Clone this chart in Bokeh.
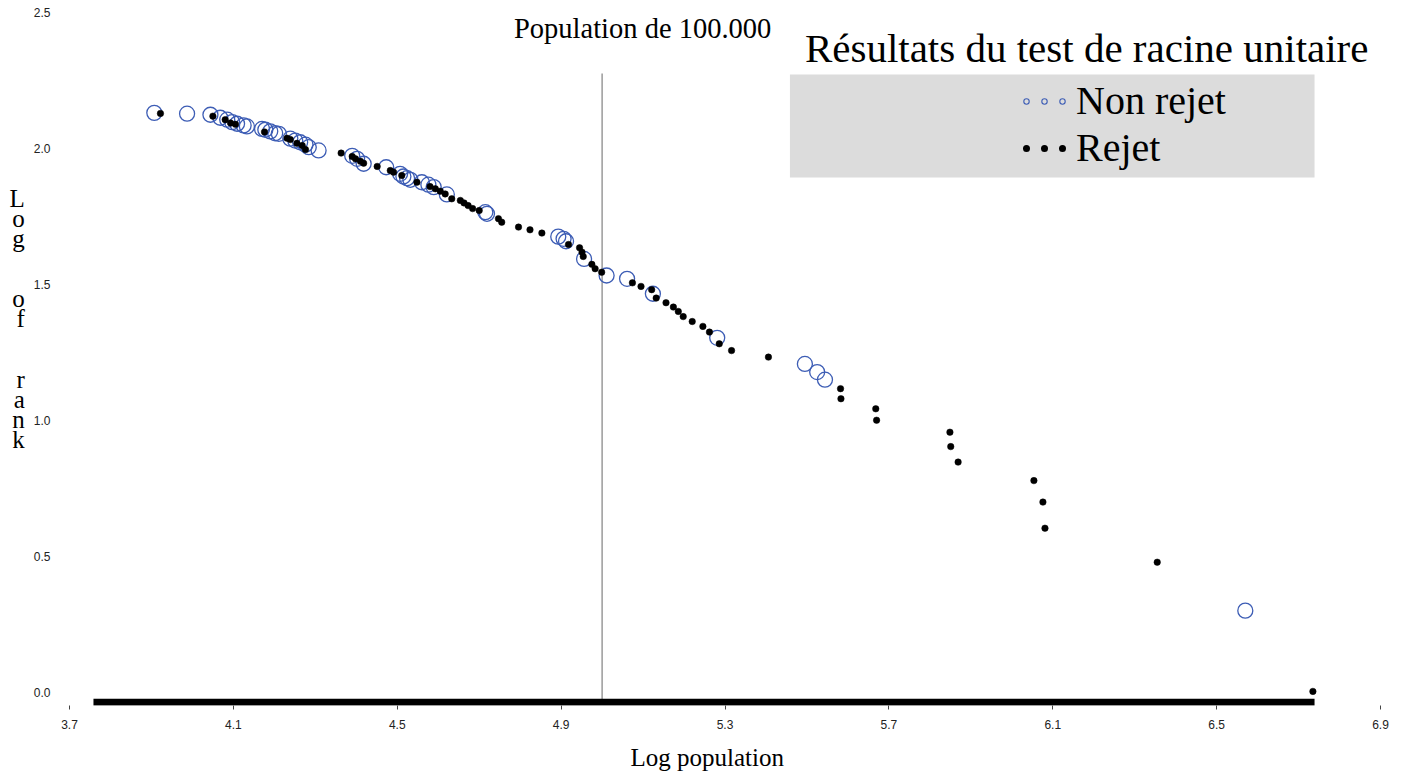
import numpy as np
from bokeh.plotting import figure
from bokeh.models import (FixedTicker, Label, BoxAnnotation, Legend, LegendItem,
                          ColumnDataSource, NumeralTickFormatter, Title)
from bokeh.embed import file_html
from bokeh.resources import INLINE

# ---- data (log population, log rank) ----
non_rejet_x = [3.907, 3.987, 4.044, 4.068, 4.085, 4.097, 4.109, 4.125, 4.133, 4.170,
               4.178, 4.190, 4.202, 4.211, 4.239, 4.251, 4.263, 4.276, 4.284, 4.308,
               4.390, 4.402, 4.418, 4.473, 4.507, 4.515, 4.524, 4.532, 4.560, 4.576,
               4.589, 4.621, 4.715, 4.719, 4.893, 4.906, 4.912, 4.956, 5.011, 5.061,
               5.124, 5.281, 5.495, 5.525, 5.544, 6.570]
non_rejet_y = [2.131, 2.128, 2.124, 2.113, 2.106, 2.097, 2.091, 2.085, 2.081, 2.072,
               2.069, 2.063, 2.056, 2.054, 2.036, 2.029, 2.023, 2.014, 2.005, 1.993,
               1.973, 1.962, 1.944, 1.931, 1.907, 1.897, 1.891, 1.885, 1.876, 1.867,
               1.858, 1.831, 1.766, 1.760, 1.676, 1.668, 1.659, 1.594, 1.533, 1.521,
               1.466, 1.304, 1.208, 1.178, 1.150, 0.301]
rejet_x = [3.922, 4.050, 4.080, 4.093, 4.105, 4.176, 4.231, 4.239, 4.255, 4.268,
           4.276, 4.363, 4.390, 4.398, 4.410, 4.418, 4.451, 4.483, 4.491, 4.511,
           4.548, 4.580, 4.593, 4.605, 4.617, 4.633, 4.654, 4.663, 4.673, 4.684,
           4.700, 4.747, 4.755, 4.796, 4.824, 4.853, 4.918, 4.945, 4.951, 4.954,
           4.975, 4.983, 4.999, 5.074, 5.095, 5.121, 5.132, 5.156, 5.174, 5.186,
           5.198, 5.220, 5.246, 5.262, 5.286, 5.316, 5.406, 5.582, 5.583, 5.668,
           5.670, 5.849, 5.851, 5.869, 6.054, 6.076, 6.081, 6.355, 6.735]
rejet_y = [2.129, 2.119, 2.106, 2.094, 2.089, 2.061, 2.038, 2.033, 2.019, 2.011,
           1.996, 1.983, 1.971, 1.962, 1.953, 1.946, 1.934, 1.919, 1.913, 1.901,
           1.876, 1.860, 1.852, 1.843, 1.833, 1.815, 1.809, 1.800, 1.790, 1.779,
           1.772, 1.742, 1.729, 1.711, 1.701, 1.689, 1.647, 1.635, 1.619, 1.603,
           1.574, 1.558, 1.545, 1.506, 1.493, 1.481, 1.450, 1.433, 1.417, 1.401,
           1.382, 1.364, 1.346, 1.325, 1.282, 1.257, 1.233, 1.117, 1.080, 1.043,
           1.001, 0.957, 0.904, 0.847, 0.779, 0.700, 0.604, 0.479, 0.004]

x_ticks = [3.7, 4.1, 4.5, 4.9, 5.3, 5.7, 6.1, 6.5, 6.9]
y_ticks = [0.0, 0.5, 1.0, 1.5, 2.0, 2.5]
threshold_x = 5.0          # log10(100 000)
threshold_top = 2.276
bar_start, bar_end, bar_y = 3.7585, 6.739, -0.0357

BLUE = "#3d5db5"
LEG_BG = "#dcdcdc"
SERIF = "Liberation Serif"
SANS = "Liberation Sans"
NB = "\u00a0"

p = figure(width=1397, height=784, x_range=(3.7, 6.9), y_range=(-0.0478, 2.5),
           output_backend="svg", toolbar_location=None, title=None,
           min_border_left=69, min_border_right=17, min_border_top=12,
           min_border_bottom=79)
p.outline_line_color = None
p.grid.visible = False
p.background_fill_color = "white"
p.border_fill_color = "white"

# x axis
p.xaxis.ticker = FixedTicker(ticks=x_ticks)
p.xaxis.formatter = NumeralTickFormatter(format="0.0")
p.xaxis.axis_line_color = None
p.xaxis.major_tick_in = 0
p.xaxis.major_tick_out = 4
p.xaxis.major_tick_line_color = "#444444"
p.xaxis.minor_tick_line_color = None
p.xaxis.major_label_standoff = 10
p.xaxis.major_label_text_font = SANS
p.xaxis.major_label_text_font_size = "12px"
p.xaxis.major_label_text_color = "#222222"

# y axis with stacked-letter label
p.yaxis.ticker = FixedTicker(ticks=y_ticks)
p.yaxis.formatter = NumeralTickFormatter(format="0.0")
p.yaxis.axis_line_color = None
p.yaxis.major_tick_in = 0
p.yaxis.major_tick_out = 0
p.yaxis.major_tick_line_color = None
p.yaxis.minor_tick_line_color = None
p.yaxis.major_label_standoff = 19
p.yaxis.major_label_text_font = SANS
p.yaxis.major_label_text_font_size = "12px"
p.yaxis.major_label_text_color = "#222222"
ylab_lines = ["L", "o", "g", NB, NB, "o", "f", NB, NB, "r", "a", "n", "k", NB, NB, NB, NB]
p.yaxis.axis_label = "\n".join(ylab_lines)
p.yaxis.axis_label_orientation = "horizontal"
p.yaxis.axis_label_standoff = 6
p.yaxis.axis_label_text_font = SERIF
p.yaxis.axis_label_text_font_size = "25px"
p.yaxis.axis_label_text_font_style = "normal"
p.yaxis.axis_label_text_color = "black"
p.yaxis.axis_label_text_line_height = 0.745
p.yaxis.axis_label_text_align = "center"

# threshold line and heavy base bar
p.segment(x0=[threshold_x], x1=[threshold_x], y0=[bar_y], y1=[threshold_top],
          line_color="#808080", line_width=1.2)
p.segment(x0=[bar_start], x1=[bar_end], y0=[bar_y], y1=[bar_y],
          line_color="black", line_width=7)

# data
p.scatter(non_rejet_x, non_rejet_y, marker="circle", size=15, fill_color=None,
          line_color=BLUE, line_width=1.3)
p.scatter(rejet_x, rejet_y, marker="circle", size=6.5, fill_color="black",
          line_color="black", line_width=0.5)

# legend background
p.add_layout(BoxAnnotation(left=5.4585, right=6.739, top=2.272, bottom=1.893,
                           fill_color=LEG_BG, fill_alpha=1.0, line_color=None))

leg_src = ColumnDataSource(dict(x=np.array([np.nan]), y=np.array([np.nan])))
r_nr_outer = p.line('x', 'y', source=leg_src, line_color=BLUE, line_width=6.5,
                    line_dash="0 18", line_dash_offset=13, line_cap="round")
r_nr_inner = p.line('x', 'y', source=leg_src, line_color=LEG_BG, line_width=4.3,
                    line_dash="0 18", line_dash_offset=13, line_cap="round")
r_rj = p.line('x', 'y', source=leg_src, line_color="black", line_width=7,
              line_dash="0 18", line_dash_offset=13, line_cap="round")

legend = Legend(items=[LegendItem(label="Non rejet", renderers=[r_nr_outer, r_nr_inner]),
                       LegendItem(label="Rejet", renderers=[r_rj])],
                location=(952, 534), glyph_width=46, glyph_height=28,
                label_standoff=9, label_text_font=SERIF, label_text_font_size="40px",
                label_text_color="black", background_fill_alpha=0,
                border_line_color=None, padding=0, margin=0, spacing=-3)
p.add_layout(legend)

# texts
p.add_layout(Label(x=5.495, y=2.368, text="Résultats du test de racine unitaire",
                   text_font=SERIF, text_font_size="41px", text_baseline="middle",
                   text_color="black"))
p.add_layout(Label(x=4.785, y=2.441, text="Population de 100.000",
                   text_font=SERIF, text_font_size="28.5px", text_baseline="middle",
                   text_color="black"))
p.add_layout(Title(text="Log  population", align="left", offset=561,
                   text_font=SERIF, text_font_size="25px", text_font_style="normal",
                   text_color="black", standoff=20), "below")

open("out.html", "w").write(file_html(p, INLINE))
